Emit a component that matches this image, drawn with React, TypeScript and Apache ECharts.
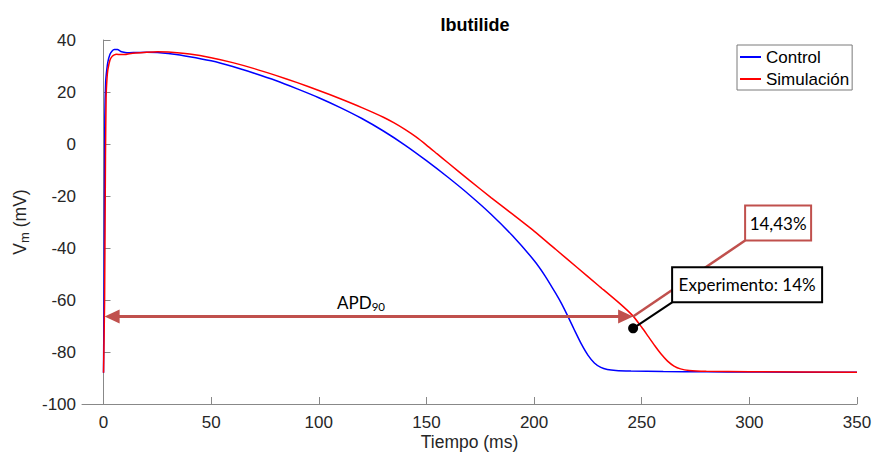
import React, { useEffect, useRef } from "react";
import * as echarts from "echarts";

// ---- Data ----
const timeControl = [0, 0.3, 0.6, 1, 1.5, 2, 3, 4, 5, 6.5, 8, 10, 12, 15, 20, 25, 30, 40, 50, 60, 70, 80, 90, 100, 110, 120, 130, 140, 150, 160, 170, 180, 190, 200, 205, 210, 213, 216, 219, 222, 225, 228, 231, 234, 238, 245, 260, 280, 300, 350];
const vmControl = [-88, -50, 10, 24, 28.5, 31.5, 34.5, 35.8, 36.3, 36.3, 35.6, 35.2, 35.1, 35.2, 35.3, 35.2, 34.8, 33.6, 32, 29.8, 27.2, 24.4, 21.2, 17.8, 14, 9.8, 5, -0.4, -6.4, -12.8, -19.6, -27, -35.3, -44.8, -50.6, -57.4, -61.8, -66.8, -72, -77, -81.2, -84.2, -85.9, -86.7, -87.1, -87.3, -87.5, -87.6, -87.7, -87.8];

const timeSim = [0, 0.5, 0.9, 1.2, 1.6, 2, 3, 4, 5, 6, 8, 10, 12, 15, 20, 25, 30, 40, 50, 60, 70, 80, 90, 100, 110, 120, 130, 135, 140, 145, 150, 155, 160, 170, 180, 190, 200, 210, 220, 230, 240, 246, 250, 253, 256, 259, 262, 265, 268, 272, 280, 300, 350];
const vmSim = [-88, -60, -5, 18, 25, 28.5, 32.3, 33.7, 34.3, 34.5, 34.4, 34.4, 34.7, 35, 35.3, 35.5, 35.4, 34.6, 33.2, 31.3, 29, 26.4, 23.6, 20.6, 17.4, 14, 10.3, 8.1, 5.6, 2.8, -0.4, -3.8, -7.2, -14, -20.6, -27, -33.5, -40.5, -47.5, -54.5, -61.5, -66.2, -70.5, -74, -77.5, -80.8, -83.5, -85.4, -86.5, -87.1, -87.4, -87.6, -87.8];

const xTickValues = [0, 50, 100, 150, 200, 250, 300, 350];
const seriesNames = ["Control", "Simulación"];

// Annotation values
const apdStart = 0.5;
const apdEnd = 246;
const apdLevel = -66.35;
const expPoint = [246, -70.9];
const simLabel = "14,43%";
const expLabel = "Experimento: 14%";

const ANNOT = "#c0504d";
const FONT = "Liberation Sans, Arial, Helvetica, sans-serif";
const NOTE_FONT = "Lato, Open Sans, sans-serif";

export default function App() {
  const ref = useRef<HTMLDivElement>(null);

  useEffect(() => {
    document.body.style.margin = "0";
    const chart = echarts.init(ref.current!, null, { renderer: "svg" });

    const control = timeControl.map((t, i) => [t, vmControl[i]]);
    const sim = timeSim.map((t, i) => [t, vmSim[i]]);

    chart.setOption({
      animation: false,
      backgroundColor: "#ffffff",
      title: {
        text: "Ibutilide",
        left: 470,
        top: 11,
        textAlign: "center",
        textStyle: { fontFamily: FONT, fontSize: 18, fontWeight: "bold", color: "#000" },
      },
      grid: { left: 82, right: 15, top: 40, bottom: 49, containLabel: false, outerBoundsMode: "none" },
      legend: {
        left: 737,
        top: 45,
        orient: "vertical",
        data: seriesNames.map((n) => ({ name: n, icon: "rect" })),
        borderColor: "#7a7a7a",
        borderWidth: 1,
        padding: [2, 3, 1, 3],
        itemGap: 2,
        itemWidth: 21,
        itemHeight: 2,
        backgroundColor: "#fff",
        textStyle: { fontFamily: FONT, fontSize: 17, color: "#000", lineHeight: 20 },
      },
      xAxis: {
        type: "value",
        min: -10,
        max: 350,
        name: "Tiempo (ms)",
        nameLocation: "middle",
        nameGap: 38,
        nameMoveOverlap: false,
        nameTextStyle: { fontFamily: FONT, fontSize: 17.5, color: "#262626", verticalAlign: "middle", lineHeight: 18 },
        axisLine: { onZero: false, lineStyle: { color: "#888", width: 1 } },
        axisTick: { inside: true, length: 7, customValues: xTickValues, lineStyle: { color: "#888" } },
        axisLabel: { customValues: xTickValues, margin: 10, fontFamily: FONT, fontSize: 17, color: "#262626" },
        splitLine: { show: false },
      },
      yAxis: {
        type: "value",
        min: -100,
        max: 40,
        interval: 20,
        name: "{v|V}{m|m}{u| (mV)}",
        nameLocation: "middle",
        nameRotate: 90,
        nameGap: 51,
        nameTextStyle: {
          fontFamily: FONT,
          color: "#262626",
          rich: {
            v: { fontFamily: FONT, fontSize: 17.5, color: "#262626", lineHeight: 22 },
            m: { fontFamily: FONT, fontSize: 13, color: "#262626", lineHeight: 12, verticalAlign: "bottom" },
            u: { fontFamily: FONT, fontSize: 17.5, color: "#262626", lineHeight: 22 },
          },
        },
        axisLine: { show: true, lineStyle: { color: "#888", width: 1 } },
        axisTick: { show: true, inside: true, length: 7, lineStyle: { color: "#888" } },
        axisLabel: { margin: 6, fontFamily: FONT, fontSize: 17, color: "#262626" },
        splitLine: { show: false },
      },
      series: [
        {
          name: seriesNames[0],
          type: "line",
          data: control,
          showSymbol: false,
          symbol: "none",
          smooth: 0.2,
          lineStyle: { color: "#0000ff", width: 1.5 },
          itemStyle: { color: "#0000ff" },
        },
        {
          name: seriesNames[1],
          type: "line",
          data: sim,
          showSymbol: false,
          symbol: "none",
          smooth: 0.2,
          lineStyle: { color: "#ff0000", width: 1.5 },
          itemStyle: { color: "#ff0000" },
        },
      ],
    });

    const a0 = chart.convertToPixel({ gridIndex: 0 }, [apdStart, apdLevel]) as number[];
    const a1 = chart.convertToPixel({ gridIndex: 0 }, [apdEnd, apdLevel]) as number[];
    const dp = chart.convertToPixel({ gridIndex: 0 }, expPoint) as number[];
    const head = 15;
    const half = 7;

    // text boxes (pixel offsets from anchor points)
    const redBox = { x: a1[0] + 112, y: a1[1] - 111, w: 66, h: 35 };
    const blackBox = { x: dp[0] + 39, y: dp[1] - 61, w: 150, h: 35 };

    chart.setOption({
      graphic: [
        {
          type: "line",
          shape: { x1: a0[0] + head - 1, y1: a0[1], x2: a1[0] - head + 1, y2: a1[1] },
          style: { stroke: ANNOT, lineWidth: 3 },
          z: 100,
        },
        {
          type: "polygon",
          shape: { points: [[a0[0], a0[1]], [a0[0] + head, a0[1] - half], [a0[0] + head, a0[1] + half]] },
          style: { fill: ANNOT },
          z: 100,
        },
        {
          type: "polygon",
          shape: { points: [[a1[0], a1[1]], [a1[0] - head, a1[1] - half], [a1[0] - head, a1[1] + half]] },
          style: { fill: ANNOT },
          z: 100,
        },
        {
          type: "text",
          x: 337,
          y: a0[1] - 14,
          style: {
            text: "{a|APD}{b|90}",
            fill: "#000",
            verticalAlign: "middle",
            rich: {
              a: { fontFamily: NOTE_FONT, fontSize: 17, fill: "#000", lineHeight: 20 },
              b: { fontFamily: NOTE_FONT, fontSize: 11.5, fill: "#000", lineHeight: 12, verticalAlign: "bottom" },
            },
          },
          z: 100,
        },
        {
          type: "line",
          shape: { x1: a1[0], y1: a1[1], x2: redBox.x, y2: redBox.y + redBox.h },
          style: { stroke: ANNOT, lineWidth: 2.5 },
          z: 100,
        },
        {
          type: "rect",
          shape: { x: redBox.x, y: redBox.y, width: redBox.w, height: redBox.h },
          style: { fill: "#fff", stroke: ANNOT, lineWidth: 2 },
          z: 101,
        },
        {
          type: "text",
          x: redBox.x + redBox.w / 2,
          y: redBox.y + redBox.h / 2,
          style: { text: simLabel, fontFamily: NOTE_FONT, fontSize: 17, fill: "#000", align: "center", verticalAlign: "middle" },
          z: 102,
        },
        {
          type: "line",
          shape: { x1: dp[0], y1: dp[1], x2: blackBox.x, y2: blackBox.y + blackBox.h },
          style: { stroke: "#000", lineWidth: 2 },
          z: 100,
        },
        {
          type: "rect",
          shape: { x: blackBox.x, y: blackBox.y, width: blackBox.w, height: blackBox.h },
          style: { fill: "#fff", stroke: "#000", lineWidth: 2 },
          z: 101,
        },
        {
          type: "text",
          x: blackBox.x + blackBox.w / 2,
          y: blackBox.y + blackBox.h / 2,
          style: { text: expLabel, fontFamily: NOTE_FONT, fontSize: 17, fill: "#000", align: "center", verticalAlign: "middle" },
          z: 102,
        },
        {
          type: "circle",
          shape: { cx: dp[0], cy: dp[1], r: 5 },
          style: { fill: "#000" },
          z: 103,
        },
      ],
    });

    return () => chart.dispose();
  }, []);

  return <div ref={ref} style={{ width: 872, height: 453 }} />;
}
